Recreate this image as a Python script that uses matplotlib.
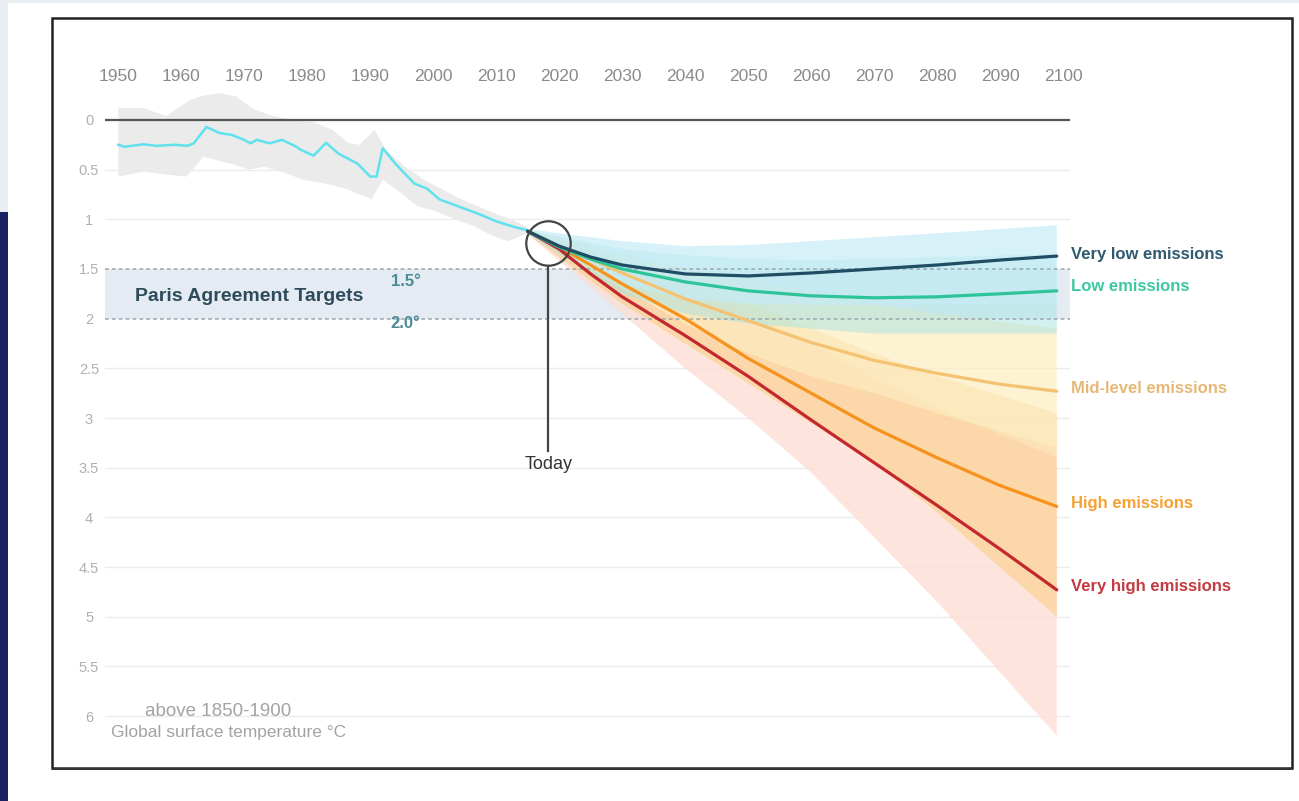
import numpy as np
import matplotlib.pyplot as plt
from matplotlib.patches import Rectangle

plt.rcParams['font.family'] = ['Liberation Sans', 'DejaVu Sans']

# observed warming, °C above 1850-1900
hist_years = [1950, 1951, 1954, 1956, 1959, 1961, 1962, 1964, 1966, 1968, 1970, 1971,
              1972, 1974, 1976, 1978, 1979, 1981, 1983, 1985, 1988, 1990, 1991, 1992,
              1994, 1997, 1999, 2001, 2004, 2007, 2010, 2013, 2015]
hist_temp = [0.25, 0.27, 0.245, 0.26, 0.25, 0.26, 0.235, 0.07, 0.13, 0.15, 0.20, 0.235,
             0.20, 0.235, 0.20, 0.26, 0.30, 0.36, 0.23, 0.34, 0.44, 0.57, 0.57, 0.285,
             0.44, 0.64, 0.69, 0.80, 0.87, 0.94, 1.02, 1.08, 1.11]

# observed range
hist_lo_years = [1950, 1954, 1957.6, 1961.4, 1963.2, 1966, 1968.6, 1971.5, 1974.5, 1977.5,
                 1981, 1984, 1986.5, 1988.3, 1990.7, 1992.5, 1995.5, 1998.5, 2001.5,
                 2004.5, 2007.5, 2010.5, 2012.4, 2015]
hist_lo = [-0.12, -0.12, -0.04, -0.20, -0.24, -0.27, -0.24, -0.11, -0.04, 0.0, 0.02, 0.10,
           0.23, 0.25, 0.10, 0.30, 0.47, 0.60, 0.70, 0.80, 0.88, 0.96, 1.00, 1.08]
hist_hi_years = [1950, 1954, 1957.6, 1960.8, 1963.5, 1967.8, 1970.8, 1973.2, 1976.8, 1979.3,
                 1982.9, 1986.5, 1990.2, 1992, 1995, 1997.5, 2000.5, 2003.5, 2006.5,
                 2009.5, 2012, 2015]
hist_hi = [0.57, 0.52, 0.55, 0.57, 0.37, 0.44, 0.50, 0.47, 0.54, 0.60, 0.64, 0.70, 0.80,
           0.60, 0.74, 0.87, 0.92, 1.00, 1.07, 1.17, 1.22, 1.14]

# scenario projections
proj_years = [2015, 2020, 2025, 2030, 2040, 2050, 2060, 2070, 2080, 2090, 2099]
very_low = [1.12, 1.27, 1.38, 1.46, 1.55, 1.57, 1.54, 1.50, 1.46, 1.41, 1.37]
low = [1.12, 1.28, 1.40, 1.50, 1.63, 1.72, 1.77, 1.79, 1.78, 1.75, 1.72]
mid = [1.12, 1.27, 1.40, 1.54, 1.80, 2.02, 2.24, 2.42, 2.55, 2.66, 2.73]
high = [1.12, 1.28, 1.46, 1.65, 2.00, 2.40, 2.75, 3.10, 3.40, 3.68, 3.89]
very_high = [1.12, 1.30, 1.55, 1.78, 2.17, 2.58, 3.02, 3.45, 3.88, 4.32, 4.73]

# scenario ranges
band_years = [2015, 2030, 2040, 2050, 2060, 2070, 2080, 2099]
very_low_lo = [1.10, 1.22, 1.27, 1.26, 1.22, 1.18, 1.14, 1.06]
very_low_hi = [1.15, 1.65, 1.80, 1.85, 1.86, 1.86, 1.86, 1.85]
low_lo = [1.11, 1.30, 1.36, 1.40, 1.41, 1.40, 1.38, 1.35]
low_hi = [1.15, 1.75, 1.95, 2.05, 2.10, 2.15, 2.15, 2.15]
mid_lo = [1.11, 1.35, 1.50, 1.60, 1.72, 1.85, 1.95, 2.10]
mid_hi = [1.15, 1.70, 2.05, 2.35, 2.58, 2.75, 2.95, 3.30]
high_lo = [1.11, 1.42, 1.63, 1.85, 2.10, 2.35, 2.58, 2.95]
high_hi = [1.15, 1.85, 2.25, 2.65, 3.05, 3.45, 3.95, 5.00]
very_high_lo = [1.11, 1.45, 1.70, 1.95, 2.25, 2.60, 2.90, 3.40]
very_high_hi = [1.15, 1.95, 2.50, 3.00, 3.55, 4.20, 4.85, 6.20]

labels = ['Very low emissions', 'Low emissions', 'Mid-level emissions',
          'High emissions', 'Very high emissions']
label_y = [1.35, 1.68, 2.70, 3.86, 4.70]
years_ticks = list(range(1950, 2101, 10))
temp_ticks = [0, 0.5, 1, 1.5, 2, 2.5, 3, 3.5, 4, 4.5, 5, 5.5, 6]

fig = plt.figure(figsize=(12.99, 8.01), dpi=100)
fig.patch.set_facecolor('white')

# slide background bits and picture frame
fig.patches.append(Rectangle((0, 0), 1, 1, transform=fig.transFigure,
                             facecolor='#e9eef5', edgecolor='none', zorder=-10))
fig.patches.append(Rectangle((8 / 1299, 0), 1, 1 - 3 / 801, transform=fig.transFigure,
                             facecolor='white', edgecolor='none', zorder=-9))
fig.patches.append(Rectangle((0, 0), 8 / 1299, 1 - 212 / 801, transform=fig.transFigure,
                             facecolor='#1b2264', edgecolor='none', zorder=-9))
fig.patches.append(Rectangle((52 / 1299, 1 - 768 / 801), 1240 / 1299, 750 / 801,
                             transform=fig.transFigure, facecolor='none',
                             edgecolor='#222222', linewidth=1.8, zorder=-8))
fig.patches.append(Rectangle((52 / 1299, 1 - 770 / 801), 1240 / 1299, 2.5 / 801,
                             transform=fig.transFigure, facecolor='#333333',
                             edgecolor='none', zorder=-8))

ax = fig.add_axes([105 / 1299, 1 - 750.8 / 801, 965 / 1299, 665.6 / 801])
ax.set_xlim(1947.9, 2101.1)
ax.set_ylim(6.35, -0.35)
for s in ax.spines.values():
    s.set_visible(False)

ax.xaxis.tick_top()
ax.set_xticks(years_ticks)
ax.set_xticklabels([str(y) for y in years_ticks])
ax.tick_params(axis='x', length=0, pad=1, labelsize=12.5, labelcolor='#8a8a8a')
ax.set_yticks(temp_ticks)
ax.set_yticklabels(['%g' % t for t in temp_ticks])
ax.tick_params(axis='y', length=0, pad=11.5, labelsize=10.5, labelcolor='#b0b0b0')
for lab in ax.get_yticklabels():
    lab.set_horizontalalignment('center')

# grid
for t in temp_ticks:
    if t == 0:
        ax.axhline(t, color='#555555', linewidth=1.6, zorder=2)
    elif t in (1.5, 2):
        ax.axhline(t, color='#9aa7ad', linewidth=1.1, linestyle=(0, (2.5, 2)), zorder=3)
    else:
        ax.axhline(t, color='#ececec', linewidth=1.0, zorder=0)

# Paris band
ax.axhspan(1.5, 2.0, color='#e4ebf2', zorder=0.5, linewidth=0)
ax.text(1952.6, 1.78, 'Paris Agreement Targets', fontsize=14, color='#2e4b5b',
        fontweight='bold', va='center', ha='left', zorder=4)
ax.text(1995.6, 1.63, '1.5°', fontsize=12, color='#4b8a98', fontweight='bold',
        va='center', ha='center', zorder=4)
ax.text(1995.6, 2.05, '2.0°', fontsize=12, color='#4b8a98', fontweight='bold',
        va='center', ha='center', zorder=4)

# observed
ax.fill(hist_lo_years + hist_hi_years[::-1], hist_lo + hist_hi[::-1],
        color='#ebebeb', linewidth=0, zorder=1)
ax.plot(hist_years, hist_temp, color='#5fe1ee', linewidth=1.8, zorder=5)


def band(lo, hi, color, alpha):
    ax.fill(band_years + band_years[::-1], lo + hi[::-1], color=color, alpha=alpha,
            linewidth=0, zorder=1.5)


band(very_high_lo, very_high_hi, '#fde0d8', 0.85)
band(high_lo, high_hi, '#fbd08f', 0.65)
band(mid_lo, mid_hi, '#fdedc0', 0.7)
band(low_lo, low_hi, '#a6e4e2', 0.5)
band(very_low_lo, very_low_hi, '#c6ecf7', 0.7)

series = [very_low, low, mid, high, very_high]
line_colors = ['#1f4d63', '#2ec49a', '#f5c272', '#f7921c', '#c4282e']
text_colors = ['#2f5a70', '#3cc9a2', '#e6b878', '#f4a235', '#c33a40']
draw_order = [2, 3, 4, 1, 0]
for i in draw_order:
    ax.plot(proj_years, series[i], color=line_colors[i], linewidth=2.3,
            solid_capstyle='round', zorder=6)
for i in range(5):
    ax.text(2101.3, label_y[i], labels[i], color=text_colors[i], fontsize=12,
            fontweight='bold', va='center', ha='left', clip_on=False)

# today marker
ax.plot([2018.3], [1.24], marker='o', markersize=32, markerfacecolor='none',
        markeredgecolor='#444444', markeredgewidth=1.6, zorder=7)
ax.plot([2018.3, 2018.3], [1.47, 3.33], color='#444444', linewidth=1.6, zorder=7)
ax.text(2018.3, 3.47, 'Today', fontsize=13, color='#333333', ha='center', va='center')

ax.text(1948.9, 6.17, 'Global surface temperature °C', fontsize=12.5, color='#a3a3a3',
        ha='left', va='center', clip_on=False)
ax.text(1954.2, 5.95, 'above 1850-1900', fontsize=13.5, color='#a3a3a3',
        ha='left', va='center')

fig.savefig('out.png', dpi=100)
